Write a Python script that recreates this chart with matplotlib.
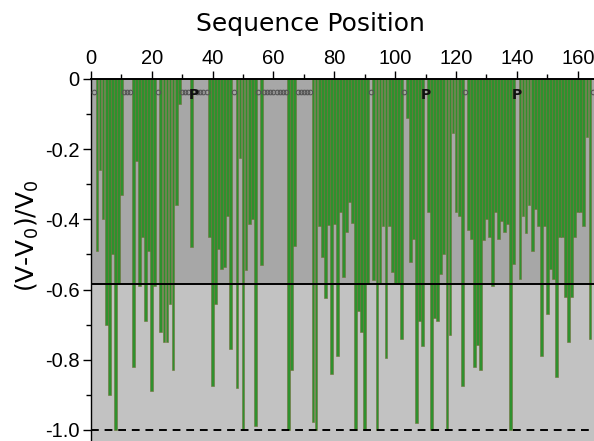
import matplotlib
matplotlib.use("Agg")
import matplotlib.pyplot as plt
from matplotlib.ticker import MultipleLocator

# residues with a measured value
bar_pos = [2, 3, 4, 5, 6, 7, 8, 9, 10,
           14, 15, 16, 17, 18, 19, 20, 21,
           23, 24, 25, 26, 27, 28, 29,
           33,
           39, 40, 41, 42, 43, 44, 45, 46,
           48, 49, 50, 51, 52, 53, 54,
           56,
           65, 66, 67,
           73, 74, 75, 76, 77, 78, 79, 80, 81, 82, 83, 84, 85, 86, 87, 88, 89, 90, 91,
           93, 94, 95, 96, 97, 98, 99, 100, 101, 102,
           104, 105, 106, 107, 108, 109,
           111, 112, 113, 114, 115, 116, 117, 118, 119, 120, 121, 122,
           124, 125, 126, 127, 128, 129, 130, 131, 132, 133, 134, 135, 136, 137, 138, 139,
           141, 142, 143, 144, 145, 146, 147, 148, 149, 150, 151, 152,
           153, 154, 155, 156, 157, 158, 159, 160, 161, 162, 163, 164]
bar_val = [-0.49, -0.26, -0.40, -0.70, -0.90, -0.50, -1.0, -0.58, -0.33,
           -0.82, -0.235, -0.59, -0.45, -0.69, -0.49, -0.89, -0.59,
           -0.72, -0.75, -0.75, -0.64, -0.83, -0.36, -0.07,
           -0.48,
           -0.45, -0.875, -0.64, -0.485, -0.54, -0.535, -0.39, -0.77,
           -0.88, -0.224, -1.0, -0.545, -0.414, -0.40, -0.99,
           -0.53,
           -1.0, -0.83, -0.475,
           -0.977, -1.0, -0.418, -0.506, -0.623, -0.415, -0.84, -0.414, -0.79, -0.38,
           -0.565, -0.436, -0.35, -0.41, -1.0, -0.66, -0.72, -1.0, -0.58,
           -0.574, -1.0, -0.58, -0.42, -0.795, -0.42, -0.55, -0.58, -0.58, -0.74,
           -0.11, -0.52, -0.455, -0.98, -0.69, -0.76,
           -0.38, -1.0, -0.68, -0.69, -0.555, -0.50, -1.0, -0.73, -0.153, -0.38, -0.39, -0.875,
           -0.43, -0.456, -0.82, -0.758, -0.83, -0.46, -0.40, -0.45, -0.59, -0.38,
           -0.455, -0.404, -0.437, -0.414, -1.0, -0.527,
           -0.57, -0.39, -0.44, -0.36, -0.49, -0.37, -0.42, -0.79, -0.42, -0.67, -0.54, -0.57,
           -0.85, -0.45, -0.45, -0.62, -0.75, -0.62, -0.45, -0.38, -0.38, -0.42, -0.165, -0.74]

# residues without data, and prolines
gap_pos = [1, 11, 12, 13, 22, 30, 31, 32, 35, 36, 37, 38, 47, 55,
           57, 58, 59, 60, 61, 62, 63, 64, 68, 69, 70, 71, 72, 92, 103, 123, 165]
pro_pos = [34, 110, 140]

threshold = -0.585
floor_val = -1.0

fig = plt.figure(figsize=(5.94, 4.41), dpi=100)
ax = fig.add_axes([90.9 / 594, 0.5 / 441, (594 - 90.9) / 594, 361.5 / 441])

ax.axhspan(threshold, 0, color="#a7a7a7", zorder=0)
ax.axhspan(-1.05, threshold, color="#c2c2c2", zorder=0)

ax.bar(bar_pos, bar_val, width=0.92, color="#2e912e", edgecolor="#72703a",
       linewidth=0.4, zorder=2)

ax.plot(gap_pos, [-0.038] * len(gap_pos), "o", ms=3.3, mfc="none",
        mec="#555555", mew=0.8, zorder=3, clip_on=False)
for p in pro_pos:
    ax.text(p, -0.047, "P", ha="center", va="center", fontsize=10,
            fontweight="bold", color="#111111", zorder=4)

ax.axhline(threshold, color="black", lw=1.4, zorder=3)
ax.axhline(floor_val, color="black", lw=1.4, ls=(0, (4, 3)), zorder=3)

ax.set_xlim(0, (594 - 90.9) / 3.043)
ax.set_ylim(-1.03, 0)

ax.xaxis.tick_top()
ax.xaxis.set_label_position("top")
ax.xaxis.set_major_locator(MultipleLocator(20))
ax.xaxis.set_minor_locator(MultipleLocator(10))
ax.yaxis.set_minor_locator(MultipleLocator(0.1))
ax.set_yticks([0, -0.2, -0.4, -0.6, -0.8, -1.0])
ax.set_yticklabels(["0", "-0.2", "-0.4", "-0.6", "-0.8", "-1.0"])

ax.tick_params(which="major", direction="out", length=6, width=1,
               labelsize=14.5, pad=2)
ax.tick_params(which="minor", direction="out", length=3.5, width=1)
for lab in ax.get_xticklabels() + ax.get_yticklabels():
    lab.set_family("Liberation Sans")

for side in ["right", "bottom"]:
    ax.spines[side].set_visible(False)
ax.spines["top"].set_linewidth(1.4)
ax.spines["left"].set_linewidth(1.0)

ax.set_xlabel("Sequence Position", fontsize=18, labelpad=8)
ax.xaxis.set_label_coords((310 - 90.9) / 503.1, 1.0 + 48 / 361.5)
ax.set_ylabel("(V-V$_0$)/V$_0$", fontsize=18)
ax.yaxis.set_label_coords(-50 / 503.1, 1.0 - (236 - 79) / 361.5)

fig.savefig("out.png", dpi=100)
